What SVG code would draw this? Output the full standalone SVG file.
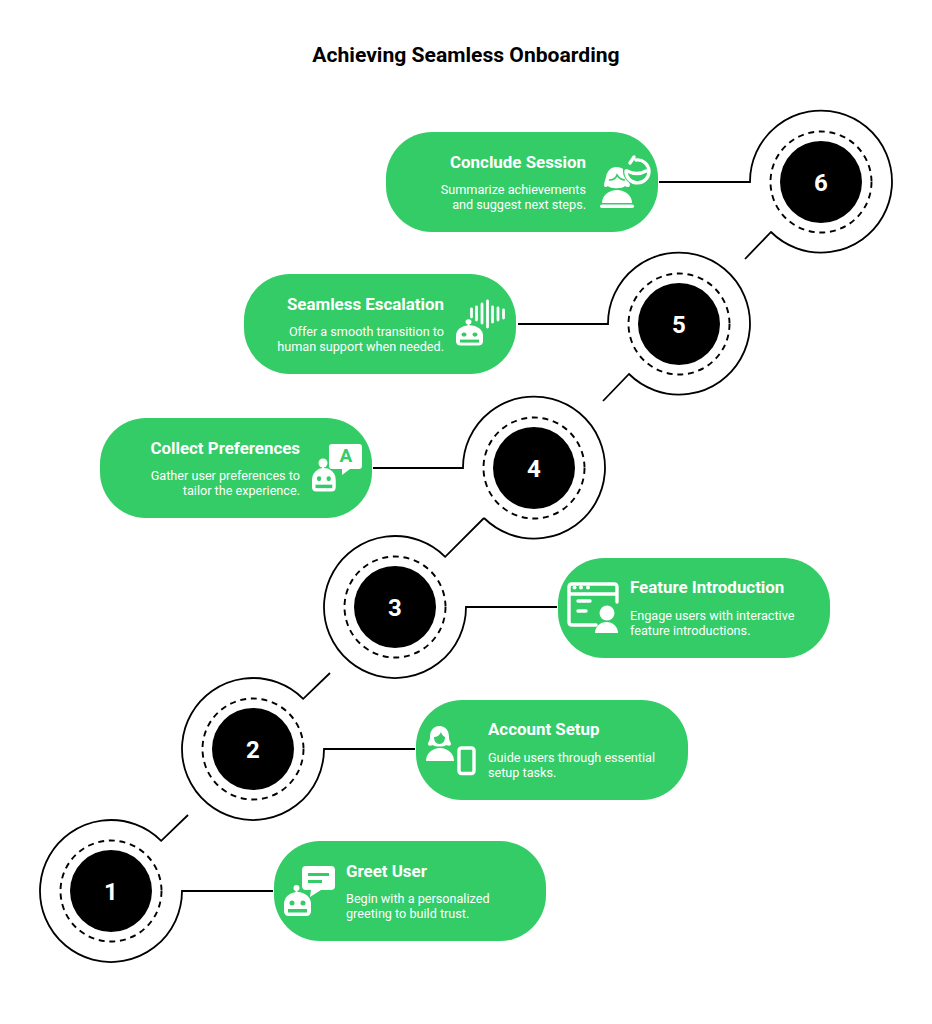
<svg xmlns="http://www.w3.org/2000/svg" xmlns:xlink="http://www.w3.org/1999/xlink" width="932" height="1024" viewBox="0 0 932 1024">
<style>
text{font-family:Roboto,"Liberation Sans",sans-serif}
.t{font-size:21.100px;font-weight:700;fill:#000;text-anchor:middle}
.h{font-size:16.900px;font-weight:700;fill:#fff}
.d{font-size:12.650px;fill:#fff}
.e{text-anchor:end}
.n{font-size:24px;font-weight:700;fill:#fff;text-anchor:middle}
.card{fill:#33cc66}
.dash{fill:none;stroke:#000;stroke-width:1.900;stroke-dasharray:6 4.700}
.conn{fill:none;stroke:#000;stroke-width:1.800}
.w{fill:#fff}
.s{fill:none;stroke:#fff;stroke-width:3.400;stroke-linecap:round;stroke-linejoin:round}
.g{fill:#33cc66}
</style>
<defs>
<g id="robot">
<circle class="w" cx="12.500" cy="-5" r="3"/>
<rect class="w" x="11.600" y="-4" width="1.800" height="6"/>
<path class="w" d="M0 11A13.500 12 0 0 1 27 11V18Q27 23 22 23H5Q0 23 0 18Z"/>
<circle class="g" cx="8" cy="10" r="2.500"/>
<circle class="g" cx="19" cy="10" r="2.500"/>
<rect class="g" x="4" y="16" width="19" height="3.500"/>
</g>
</defs>
<text class="t" x="466" y="62">Achieving Seamless Onboarding</text>
<g id="connectors">
<path class="conn" d="M273 891H182A71 71 0 1 1 161.200 840.800L188 815"/>
<path class="conn" d="M415 749H324A71 71 0 1 1 303.200 698.800L330 673"/>
<path class="conn" d="M557 607H466A71 71 0 1 1 445.200 556.800L484 518"/>
<path class="conn" d="M373 468H463A71 71 0 1 1 484 518"/>
<path class="conn" d="M518 324H608A71 71 0 1 1 629 374L603 401"/>
<path class="conn" d="M659 182H750A71 71 0 1 1 771 232L745 259"/>
</g>
<g id="step-1"><circle class="dash" cx="111" cy="891" r="50.500"/><circle cx="111" cy="891" r="41"/><text class="n" x="111" y="900">1</text></g>
<g id="step-2"><circle class="dash" cx="253" cy="749" r="50.500"/><circle cx="253" cy="749" r="41"/><text class="n" x="253" y="758">2</text></g>
<g id="step-3"><circle class="dash" cx="395" cy="607" r="50.500"/><circle cx="395" cy="607" r="41"/><text class="n" x="395" y="616">3</text></g>
<g id="step-4"><circle class="dash" cx="534" cy="468" r="50.500"/><circle cx="534" cy="468" r="41"/><text class="n" x="534" y="477">4</text></g>
<g id="step-5"><circle class="dash" cx="679" cy="324" r="50.500"/><circle cx="679" cy="324" r="41"/><text class="n" x="679" y="333">5</text></g>
<g id="step-6"><circle class="dash" cx="821" cy="182" r="50.500"/><circle cx="821" cy="182" r="41"/><text class="n" x="821" y="191">6</text></g>

<g id="card-1"><rect class="card" x="274" y="841" width="272" height="100" rx="46"/>
<text class="h" x="346" y="877">Greet User</text>
<text class="d" x="346" y="903">Begin with a personalized</text>
<text class="d" x="346" y="918">greeting to build trust.</text>
<use xlink:href="#robot" href="#robot" transform="translate(284 893)"/>
<path class="w" d="M306 866H331Q335 866 335 870V886Q335 890 331 890H321L310 897L311 890H306Q302 890 302 886V870Q302 866 306 866Z"/>
<path class="g" d="M308 873H329V876H308ZM308 880H322V883H308Z"/>
</g>
<g id="card-2"><rect class="card" x="416" y="700" width="272" height="100" rx="46"/>
<text class="h" x="488" y="735">Account Setup</text>
<text class="d" x="488" y="762">Guide users through essential</text>
<text class="d" x="488" y="777">setup tasks.</text>
<path class="w" d="M439.500 726C446 726 449 731 449 737C449 741 451 742 451 744C451 746 449 746 446 745C445 747 434 747 433 745C430 746 428 746 428 744C428 742 430 741 430 737C430 731 433 726 439.500 726Z"/>
<path class="g" d="M434 737C437 737 440 735 441 732C442 735 443 736 445 737C445 741 443 744 439.500 744C436 744 434 741 434 737Z"/>
<path class="w" d="M426 761A14 13 0 0 1 454 761Z"/>
<rect x="459" y="748" width="15" height="25.500" rx="2.500" fill="none" stroke="#fff" stroke-width="3.400"/>
</g>
<g id="card-3"><rect class="card" x="558" y="558" width="272" height="100" rx="46"/>
<text class="h" x="630" y="593">Feature Introduction</text>
<text class="d" x="630" y="620">Engage users with interactive</text>
<text class="d" x="630" y="635">feature introductions.</text>
<path class="s" d="M596 625H572Q569 625 569 622V587Q569 584 572 584H614Q617 584 617 587V602M569 594H617M578 601H590M578 611H586"/>
<circle class="w" cx="574.500" cy="587.500" r="2"/><circle class="w" cx="581" cy="587.500" r="2"/><circle class="w" cx="588" cy="587.500" r="2"/>
<circle class="w" cx="607" cy="613" r="7.500"/>
<path class="w" d="M595 633A11.500 11 0 0 1 618 633Z"/>
</g>
<g id="card-4"><rect class="card" x="100" y="418" width="272" height="100" rx="46"/>
<text class="h" x="300" y="454" text-anchor="end">Collect Preferences</text>
<text class="d e" x="300" y="480">Gather user preferences to</text>
<text class="d e" x="300" y="495">tailor the experience.</text>
<use xlink:href="#robot" href="#robot" transform="translate(312 469) scale(.88 .98)"/>
<circle class="w" cx="323" cy="463" r="4.500"/>
<path class="w" d="M332 444H359Q362 444 362 447V466Q362 469 359 469H350L342 475L342 469H332Q329 469 329 466V447Q329 444 332 444Z"/>
<text x="346" y="462" text-anchor="middle" font-size="19" font-weight="700" class="g">A</text>
</g>
<g id="card-5"><rect class="card" x="244" y="274" width="272" height="100" rx="46"/>
<text class="h e" x="444" y="310">Seamless Escalation</text>
<text class="d e" x="444" y="336">Offer a smooth transition to</text>
<text class="d e" x="444" y="351">human support when needed.</text>
<use xlink:href="#robot" href="#robot" transform="translate(456 326) scale(1 .85)"/>
<path class="s" d="M471.500 309V317M476.500 307V320M482 304V323M487.500 301V327M492.500 307V322M498 308V320M503.500 310V318" style="stroke-width:2.800"/>
</g>
<g id="card-6"><rect class="card" x="386" y="132" width="272" height="100" rx="46"/>
<text class="h e" x="586" y="168">Conclude Session</text>
<text class="d e" x="586" y="194">Summarize achievements</text>
<text class="d e" x="586" y="209">and suggest next steps.</text>
<path class="w" d="M616 167C624 167 628 172 628 178C628 182 630 183 630 185C630 187 627 188 625 186C623 189 610 189 608 186C606 188 604 187 604 185C604 183 605 181 606 177C607 171 611 167 616 167Z"/>
<path d="M609 180C613 180 616 178 617 175C619 178 622 180 625 180" fill="none" stroke="#33cc66" stroke-width="1.600"/>
<path class="w" d="M602 203A15 13 0 0 1 632 203Z"/>
<rect class="w" x="600" y="204.500" width="34" height="3.600" rx="1.800"/>
<circle class="g" cx="637" cy="171" r="14"/>
<path class="s" d="M636 160A11.500 11.500 0 1 1 626 171"/>
<path class="s" d="M627 171Q637 176 646 171M634 157L630 163"/>
</g>
</svg>
